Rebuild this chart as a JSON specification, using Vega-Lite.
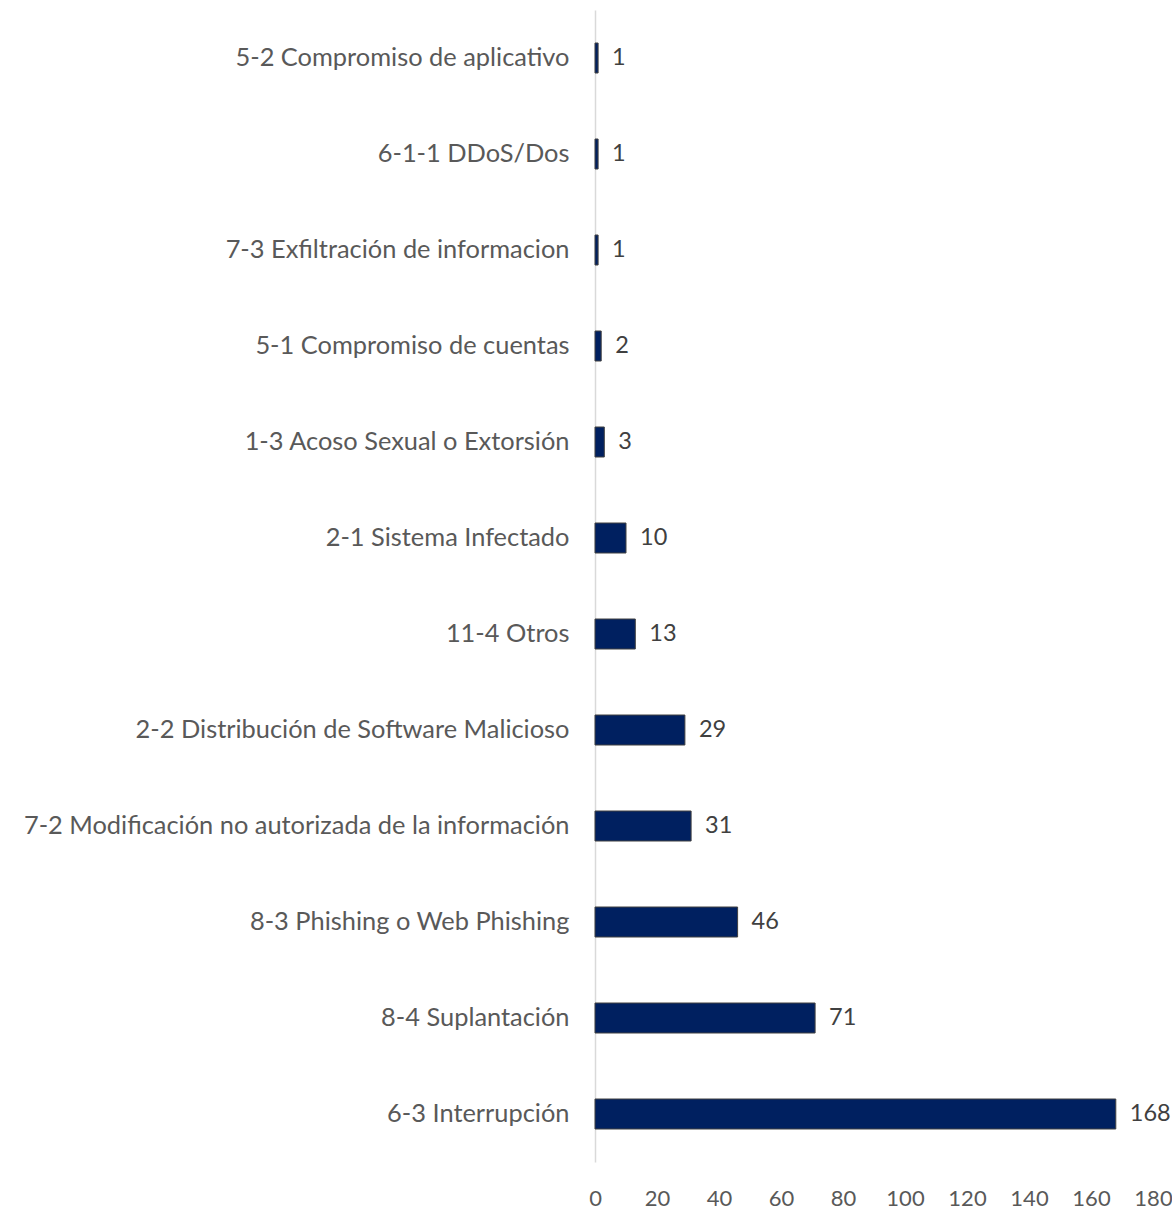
{
  "$schema": "https://vega.github.io/schema/vega-lite/v6.json",
  "autosize": "none",
  "width": 558,
  "height": 1152,
  "padding": {"left": 595, "top": 10, "right": 19, "bottom": 48},
  "background": "white",
  "config": {"view": {"stroke": null}, "font": "Lato"},
  "data": {
    "values": [
      {"categoria": "5-2 Compromiso de aplicativo", "casos": 1},
      {"categoria": "6-1-1 DDoS/Dos", "casos": 1},
      {"categoria": "7-3 Exfiltración de informacion", "casos": 1},
      {"categoria": "5-1 Compromiso de cuentas", "casos": 2},
      {"categoria": "1-3 Acoso Sexual o Extorsión", "casos": 3},
      {"categoria": "2-1 Sistema Infectado", "casos": 10},
      {"categoria": "11-4 Otros", "casos": 13},
      {"categoria": "2-2 Distribución de Software Malicioso", "casos": 29},
      {"categoria": "7-2 Modificación no autorizada de la información", "casos": 31},
      {"categoria": "8-3 Phishing o Web Phishing", "casos": 46},
      {"categoria": "8-4 Suplantación", "casos": 71},
      {"categoria": "6-3 Interrupción", "casos": 168}
    ]
  },
  "encoding": {
    "y": {
      "field": "categoria",
      "type": "nominal",
      "sort": null,
      "title": null,
      "scale": {"paddingInner": 0.6875, "paddingOuter": 0.34375},
      "axis": {
        "ticks": false,
        "domainColor": "#d9d9d9",
        "domainWidth": 1.5,
        "labelFont": "Lato",
        "labelFontSize": 25.4,
        "labelColor": "#595959",
        "labelPadding": 26,
        "labelLimit": 700
      }
    },
    "x": {
      "field": "casos",
      "type": "quantitative",
      "title": null,
      "scale": {"domain": [0, 180], "nice": false},
      "axis": {
        "values": [0, 20, 40, 60, 80, 100, 120, 140, 160, 180],
        "grid": false,
        "domain": false,
        "ticks": false,
        "labelFont": "Lato",
        "labelFontSize": 22,
        "labelColor": "#595959",
        "labelPadding": 26,
        "labelFlush": false
      }
    }
  },
  "layer": [
    {
      "mark": {"type": "bar", "color": "#002060", "stroke": "#404040", "strokeWidth": 1}
    },
    {
      "mark": {"type": "text", "align": "left", "baseline": "middle", "dx": 14, "font": "Lato", "fontSize": 23.5, "color": "#404040"},
      "encoding": {"text": {"field": "casos", "type": "quantitative"}}
    }
  ]
}
